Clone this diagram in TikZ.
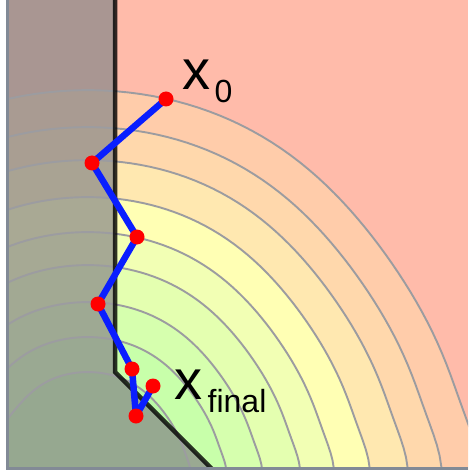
\documentclass[tikz,border=0pt]{standalone}
\usepackage{fontspec}
\setmainfont{Liberation Sans}
\definecolor{bgzero}{RGB}{255,187,170}
\definecolor{bone}{RGB}{255,204,170}
\definecolor{btwo}{RGB}{255,216,172}
\definecolor{bthree}{RGB}{255,232,176}
\definecolor{bfour}{RGB}{255,255,180}
\definecolor{bfive}{RGB}{242,255,180}
\definecolor{bsix}{RGB}{228,255,176}
\definecolor{bseven}{RGB}{214,255,174}
\definecolor{beight}{RGB}{200,255,170}
\definecolor{bnine}{RGB}{185,250,165}
\definecolor{clinecol}{RGB}{156,156,160}
\definecolor{infeascol}{RGB}{137,137,137}
\definecolor{framecol}{RGB}{130,138,150}
\definecolor{gdblue}{RGB}{10,30,255}
\pgfmathdeclarefunction{crad}{2}{%
  \begingroup
  \pgfmathparse{#1*(1 - 0.035*exp(max(-20,-((#2-35)/25)*((#2-35)/25))) + 0.03*exp(max(-20,-(#2/8)*(#2/8))) - 0.04*exp(max(-20,-((#2-140)/20)*((#2-140)/20))))}%
  \pgfmathsmuggle\pgfmathresult
  \endgroup}
\begin{document}
\begin{tikzpicture}[x=1pt,y=-1pt,
  cline/.style={draw=clinecol, line width=1.9pt},
  infeas/.style={fill=infeascol, fill opacity=0.72},
  boundary/.style={draw=black, draw opacity=0.8, line width=4.5pt},
  gdpath/.style={draw=gdblue, line width=6.5pt, line join=round},
  rdot/.style={circle, fill=red, inner sep=0pt, minimum size=15pt},
  lbl/.style={inner sep=0pt, font=\fontsize{56}{60}\selectfont},
  sublbl/.style={inner sep=0pt, font=\fontsize{32}{36}\selectfont}]
\useasboundingbox (0,0) rectangle (468,470);
\fill[bgzero] (0,0) rectangle (468,470);
\begin{scope}
  \clip (0,0) rectangle (468,470);
  \foreach \s/\c in {382/bone,345/btwo,312/bthree,275/bfour,240/bfive,207/bsix,170/bseven,135/beight,100/bnine}{
    \fill[\c] plot[domain=-15:195,samples=120] ({88+crad(\s,\x)*cos(\x)},{472-crad(\s,\x)*sin(\x)}) -- cycle;
  }
  \fill[infeas] (-2,-2) -- (115,-2) -- (115,372) -- (215,472) -- (-2,472) -- cycle;
  \foreach \s in {382,345,312,275,240,207,170,135,100}{
    \draw[cline] plot[domain=-15:195,samples=120] ({88+crad(\s,\x)*cos(\x)},{472-crad(\s,\x)*sin(\x)});
  }
  \draw[boundary] (115,-3) -- (115,372) -- (217,474);
\end{scope}
\coordinate (p0) at (166,99);
\coordinate (p1) at (92,163);
\coordinate (p2) at (137,237);
\coordinate (p3) at (98,304);
\coordinate (p4) at (132,369);
\coordinate (p5) at (136,416);
\coordinate (p6) at (153,386);
\draw[gdpath] (p0) -- (p1) -- (p2) -- (p3) -- (p4) -- (p5) -- (p6);
\foreach \p in {p0,p1,p2,p3,p4,p5,p6}{ \node[rdot] at (\p) {}; }
\node[lbl, anchor=base west] (xzero) at (182.5,90) {x};
\node[sublbl, anchor=base west] (xzerosub) at (214.5,103) {0};
\node[lbl, anchor=base west] (xfin) at (174.5,399) {x};
\node[sublbl, anchor=base west] (xfinsub) at (207.5,412) {final};
\fill[white] (0,0) rectangle (6,470);
\fill[framecol] (6,0) rectangle (9,470);
\fill[framecol] (6,467) rectangle (468,470);
\end{tikzpicture}
\end{document}
